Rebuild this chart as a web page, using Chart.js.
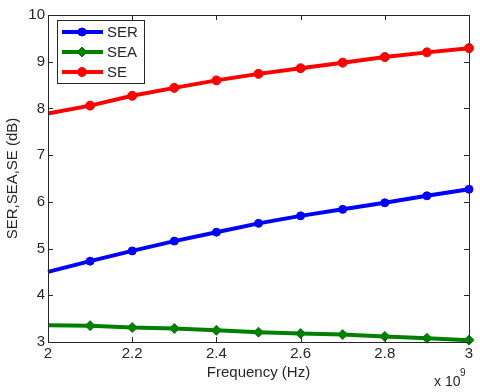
<!DOCTYPE html>
<html>
<head>
<meta charset="utf-8">
<script src="https://cdn.jsdelivr.net/npm/chart.js@4"></script>
<style>
  html, body { margin: 0; padding: 0; background: #fff; }
  #wrap { width: 480px; height: 392px; }
</style>
</head>
<body>
<div id="wrap"><canvas id="chart" width="480" height="392"></canvas></div>
<script>
// Shielding effectiveness vs frequency (GHz, axis shows x 10^9)
const frequency = [2.0, 2.1, 2.2, 2.3, 2.4, 2.5, 2.6, 2.7, 2.8, 2.9, 3.0];
const serValues = [4.50, 4.73, 4.95, 5.16, 5.35, 5.54, 5.70, 5.84, 5.98, 6.13, 6.27];
const seaValues = [3.36, 3.35, 3.31, 3.29, 3.25, 3.21, 3.18, 3.16, 3.12, 3.08, 3.04];
const seValues = [7.89, 8.06, 8.27, 8.44, 8.60, 8.74, 8.86, 8.98, 9.10, 9.20, 9.29];

const seriesNames = ['SER', 'SEA', 'SE'];
const xTickValues = [2, 2.2, 2.4, 2.6, 2.8, 3];
const xTickLabels = ['2', '2.2', '2.4', '2.6', '2.8', '3'];
const yTickValues = [3, 4, 5, 6, 7, 8, 9, 10];
const yTickLabels = ['3', '4', '5', '6', '7', '8', '9', '10'];

const FONT = '"Liberation Sans", Arial, sans-serif';
const TEXT = '#262626';

function points(values) {
    return frequency.map((f, i) => ({ x: f, y: values[i] }));
}

function makeSeries(label, values, color, style, radius) {
    return {
        label: label,
        data: points(values),
        borderColor: color,
        backgroundColor: color,
        pointBackgroundColor: color,
        pointBorderColor: color,
        borderWidth: 4,
        pointStyle: style,
        markerSize: radius,
        pointRadius: (c) => c.dataIndex === 0 ? 0 : radius,
        pointBorderWidth: 1,
        tension: 0,
        clip: false
    };
}

// box, inner ticks, legend and exponent label, MATLAB style
const axesBox = {
    id: 'axesBox',
    afterDraw(chart) {
        const ctx = chart.ctx;
        const a = chart.chartArea;
        const xs = chart.scales.x;
        const ys = chart.scales.y;
        ctx.save();
        ctx.strokeStyle = '#262626';
        ctx.lineWidth = 1;
        ctx.beginPath();
        xTickValues.forEach(v => {
            const px = Math.round(xs.getPixelForValue(v)) + 0.5;
            ctx.moveTo(px, a.bottom); ctx.lineTo(px, a.bottom - 5);
            ctx.moveTo(px, a.top); ctx.lineTo(px, a.top + 5);
        });
        yTickValues.forEach(v => {
            const py = Math.round(ys.getPixelForValue(v)) + 0.5;
            ctx.moveTo(a.left, py); ctx.lineTo(a.left + 5, py);
            ctx.moveTo(a.right, py); ctx.lineTo(a.right - 5, py);
        });
        ctx.stroke();
        ctx.strokeRect(Math.round(a.left) + 0.5, Math.round(a.top) + 0.5,
            Math.round(a.right - a.left), Math.round(a.bottom - a.top));

        // legend
        const lx = 57, ly = 20, lw = 87, lh = 63;
        ctx.fillStyle = '#fff';
        ctx.fillRect(lx, ly, lw, lh);
        ctx.strokeStyle = '#262626';
        ctx.lineWidth = 1;
        ctx.strokeRect(lx + 0.5, ly + 0.5, lw, lh);
        chart.data.datasets.forEach((ds, i) => {
            const y = ly + 12 + i * 20;
            ctx.strokeStyle = ds.borderColor;
            ctx.lineWidth = 4;
            ctx.beginPath();
            ctx.moveTo(62, y); ctx.lineTo(103, y);
            ctx.stroke();
            ctx.fillStyle = ds.borderColor;
            ctx.lineWidth = 1;
            Chart.helpers.drawPoint(ctx, {
                pointStyle: ds.pointStyle,
                radius: ds.markerSize,
                borderWidth: 1
            }, 82, y);
            ctx.fillStyle = TEXT;
            ctx.font = '15px ' + FONT;
            ctx.textAlign = 'left';
            ctx.textBaseline = 'middle';
            ctx.fillText(ds.label, 107, y + 1);
        });

        // exponent
        ctx.fillStyle = TEXT;
        ctx.textAlign = 'left';
        ctx.textBaseline = 'alphabetic';
        ctx.font = '14px ' + FONT;
        ctx.fillText('x 10', 434, 386);
        ctx.font = '10px ' + FONT;
        ctx.fillText('9', 460, 376);
        ctx.restore();
    }
};

new Chart(document.getElementById('chart'), {
    type: 'line',
    data: {
        datasets: [
            makeSeries(seriesNames[0], serValues, '#0000ff', 'circle', 4),
            makeSeries(seriesNames[1], seaValues, '#008000', 'rectRot', 5),
            makeSeries(seriesNames[2], seValues, '#ff0000', 'circle', 4.5)
        ]
    },
    options: {
        responsive: false,
        animation: false,
        layout: { padding: { top: 15, right: 11, left: 0, bottom: 0 } },
        plugins: {
            legend: { display: false },
            tooltip: { enabled: false }
        },
        scales: {
            x: {
                type: 'linear',
                min: 2,
                max: 3,
                afterFit: (s) => { s.height = 50; },
                afterBuildTicks: (s) => { s.ticks = xTickValues.map(v => ({ value: v })); },
                grid: { display: false, drawTicks: false },
                border: { display: false },
                ticks: {
                    padding: 3,
                    color: TEXT,
                    font: { family: FONT, size: 15 },
                    callback: (v, i) => xTickLabels[i]
                },
                title: {
                    display: true,
                    text: 'Frequency (Hz)',
                    color: TEXT,
                    font: { family: FONT, size: 15 },
                    padding: { top: 0, bottom: 10 }
                }
            },
            y: {
                type: 'linear',
                min: 3,
                max: 10,
                afterFit: (s) => { s.width = 48; },
                afterBuildTicks: (s) => { s.ticks = yTickValues.map(v => ({ value: v })); },
                grid: { display: false, drawTicks: false },
                border: { display: false },
                ticks: {
                    padding: 3,
                    color: TEXT,
                    font: { family: FONT, size: 15 },
                    callback: (v, i) => yTickLabels[i]
                },
                title: {
                    display: true,
                    text: 'SER,SEA,SE (dB)',
                    color: TEXT,
                    font: { family: FONT, size: 15 },
                    padding: { top: 4, bottom: 0 }
                }
            }
        }
    },
    plugins: [axesBox]
});
</script>
</body>
</html>
